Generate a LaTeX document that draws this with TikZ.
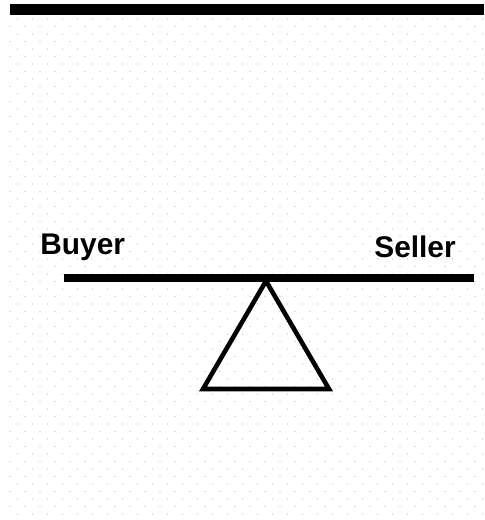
\documentclass[tikz,border=0pt]{standalone}
\usepackage{fontspec}
\setmainfont{Liberation Sans}
\usetikzlibrary{positioning}

\begin{document}
\begin{tikzpicture}[x=0.02cm,y=-0.02cm]
\tikzset{
  sidelabel/.style={inner sep=0pt,anchor=base west,font=\fontsize{17}{19}\selectfont\bfseries},
  beamline/.style={line width=4.4pt},
  fulcrum/.style={line width=2.6pt,line join=miter},
  griddot/.style={fill=black!28}
}
\useasboundingbox (0,0) rectangle (484,520);
% dotted paper
\foreach \r in {0,...,66}{
  \pgfmathsetmacro{\yy}{19+7.5*\r}
  \pgfmathsetmacro{\xo}{mod(\r,2)==0 ? 17.5 : 10}
  \foreach \c in {0,...,31}{
    \fill[griddot] (\xo+15*\c,\yy) circle (0.6);
  }
}
% top bar
\fill[black] (10,4) rectangle (484,15.5);
\node[sidelabel] (n_buyer) at (40,254) {Buyer};
\node[sidelabel] (n_seller) at (374,257) {Seller};
\coordinate (c_beam_l) at (64,278);
\coordinate (c_beam_r) at (474,278);
\coordinate (c_apex) at (266,281);
\coordinate (c_base_l) at (203,389);
\coordinate (c_base_r) at (329,389);
\draw[beamline] (c_beam_l) -- (c_beam_r);
\draw[fulcrum] (c_apex) -- (c_base_r) -- (c_base_l) -- cycle;
\end{tikzpicture}
\end{document}
